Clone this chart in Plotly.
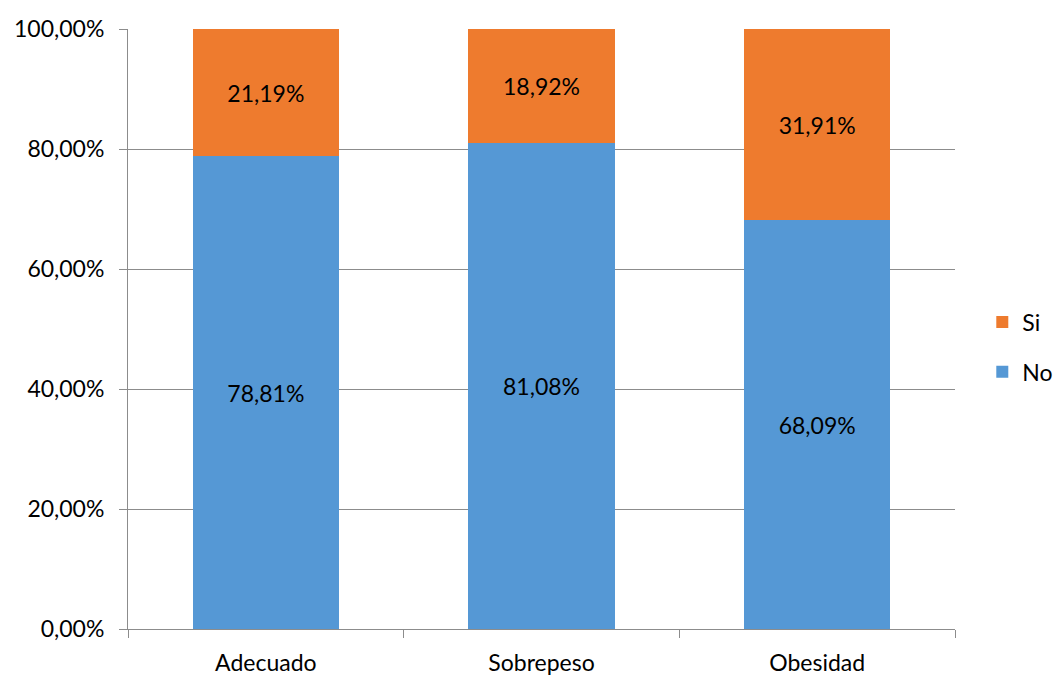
import plotly.graph_objects as go

categories = ["Adecuado", "Sobrepeso", "Obesidad"]
no_values = [0.7881, 0.8108, 0.6809]
si_values = [0.2119, 0.1892, 0.3191]
y_ticks = [0, 0.2, 0.4, 0.6, 0.8, 1.0]

FONT = "Lato, Open Sans, sans-serif"
FS = 23

fig = go.Figure()
fig.add_trace(go.Bar(
    x=categories, y=no_values, name="No", legendgroup="no", legendrank=2,
    marker=dict(color="#5598D5", line=dict(width=0)),
    texttemplate="%{y:.2%}", textposition="inside", insidetextanchor="middle",
    textfont=dict(color="black", size=FS, family=FONT),
))
fig.add_trace(go.Bar(
    x=categories, y=si_values, name="Si", legendgroup="si", legendrank=1,
    marker=dict(color="#EE7B2E", line=dict(width=0)),
    texttemplate="%{y:.2%}", textposition="inside", insidetextanchor="middle",
    textfont=dict(color="black", size=FS, family=FONT),
))

fig.update_layout(
    width=1053, height=677,
    barmode="stack", bargap=0.47,
    separators=",.",
    paper_bgcolor="white", plot_bgcolor="white",
    margin=dict(l=128, r=98, t=29, b=48, autoexpand=False),
    font=dict(family=FONT, size=FS, color="black"),
    legend=dict(
        x=1.033, y=0.47, xanchor="left", yanchor="middle",
        traceorder="grouped", font=dict(size=FS),
        itemwidth=30, tracegroupgap=17,
        bgcolor="rgba(0,0,0,0)",
    ),
    showlegend=True,
)
fig.update_yaxes(
    range=[0, 1], tickvals=y_ticks, tickformat=".2%",
    showgrid=True, gridcolor="#8C8C8C", gridwidth=1,
    showline=True, linecolor="#8C8C8C", linewidth=1,
    ticks="outside", ticklen=8, tickcolor="#8C8C8C",
    ticklabelstandoff=10, zeroline=False,
    tickfont=dict(size=FS),
)
fig.update_xaxes(
    showline=True, linecolor="#8C8C8C", linewidth=1,
    ticks="outside", ticklen=8, tickcolor="#8C8C8C",
    tickson="boundaries", showgrid=False,
    ticklabelstandoff=13,
    tickfont=dict(size=FS),
)

fig.write_html("out.html")
